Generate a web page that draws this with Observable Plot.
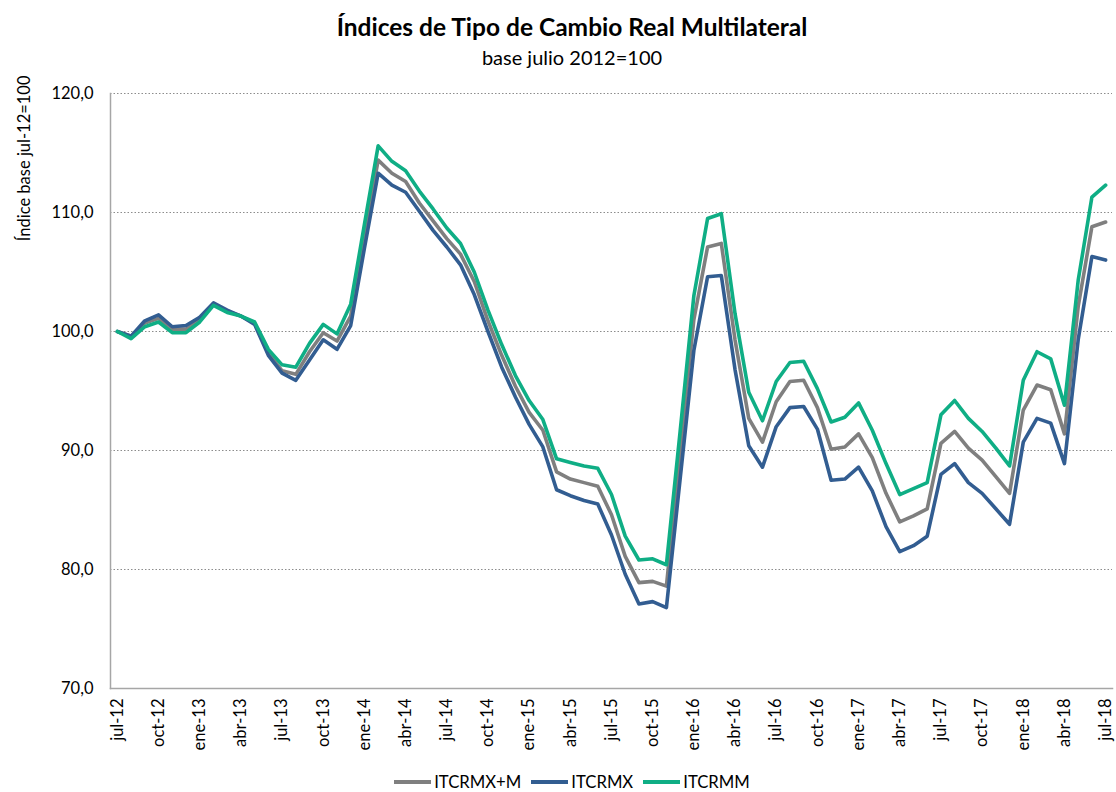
<!DOCTYPE html>
<html>
<head>
<meta charset="utf-8">
<script src="https://cdn.jsdelivr.net/npm/d3@7"></script>
<script src="https://cdn.jsdelivr.net/npm/@observablehq/plot@0.6"></script>
<style>
  body { margin: 0; background: #fff; font-family: Lato, "Open Sans", sans-serif; color: #000; }
  #wrap { position: relative; width: 1116px; height: 792px; }
  #title { position: absolute; left: 14px; width: 1116px; top: 12px; text-align: center; font-size: 24.5px; font-weight: bold; line-height: 30px; }
  #subtitle { position: absolute; left: 14px; width: 1116px; top: 45px; text-align: center; font-size: 20px; line-height: 24px; }
  #chart { position: absolute; left: 0; top: 70px; }
  #legend { position: absolute; left: 14px; width: 1116px; top: 772px; display: flex; justify-content: center; gap: 10px; font-size: 16.7px; line-height: 20px; }
  .item { display: flex; align-items: center; gap: 3px; }
  .swatch { width: 37px; height: 4px; }
</style>
</head>
<body>
<div id="wrap">
  <div id="title">Índices de Tipo de Cambio Real Multilateral</div>
  <div id="subtitle">base julio 2012=100</div>
  <div id="chart"></div>
  <div id="legend"></div>
</div>
<script>
const months = [
  "jul-12","ago-12","sep-12","oct-12","nov-12","dic-12",
  "ene-13","feb-13","mar-13","abr-13","may-13","jun-13","jul-13","ago-13","sep-13","oct-13","nov-13","dic-13",
  "ene-14","feb-14","mar-14","abr-14","may-14","jun-14","jul-14","ago-14","sep-14","oct-14","nov-14","dic-14",
  "ene-15","feb-15","mar-15","abr-15","may-15","jun-15","jul-15","ago-15","sep-15","oct-15","nov-15","dic-15",
  "ene-16","feb-16","mar-16","abr-16","may-16","jun-16","jul-16","ago-16","sep-16","oct-16","nov-16","dic-16",
  "ene-17","feb-17","mar-17","abr-17","may-17","jun-17","jul-17","ago-17","sep-17","oct-17","nov-17","dic-17",
  "ene-18","feb-18","mar-18","abr-18","may-18","jun-18","jul-18"
];

const itcrmxm = [
  100.0, 99.6, 100.7, 101.1, 100.2, 100.2,
  101.0, 102.3, 101.7, 101.3, 100.7, 98.2, 96.7, 96.4, 98.3, 99.9, 99.2, 101.3,
  108.0, 114.4, 113.3, 112.6, 110.8, 109.3, 107.8, 106.5, 104.2, 100.9, 98.0, 95.4,
  93.2, 91.7, 88.2, 87.6, 87.3, 87.0, 84.6, 81.1, 78.9, 79.0, 78.6, 89.8,
  101.0, 107.1, 107.4, 99.3, 92.7, 90.7, 94.1, 95.8, 95.9, 93.6, 90.1, 90.3,
  91.4, 89.4, 86.4, 84.0, 84.5, 85.1, 90.6, 91.6, 90.2, 89.2, 87.8, 86.4,
  93.4, 95.5, 95.1, 91.4, 102.1, 108.8, 109.2
];

const itcrmx = [
  100.0, 99.6, 100.9, 101.4, 100.4, 100.5,
  101.2, 102.4, 101.8, 101.3, 100.6, 98.0, 96.5, 95.9, 97.6, 99.3, 98.5, 100.5,
  107.0, 113.3, 112.3, 111.7, 110.1, 108.5, 107.1, 105.6, 103.1, 100.0, 97.0, 94.5,
  92.2, 90.3, 86.7, 86.2, 85.8, 85.5, 82.9, 79.6, 77.1, 77.3, 76.8, 87.6,
  98.4, 104.6, 104.7, 96.8, 90.4, 88.6, 92.0, 93.6, 93.7, 91.8, 87.5, 87.6,
  88.6, 86.6, 83.6, 81.5, 82.0, 82.8, 88.0, 88.9, 87.3, 86.4, 85.1, 83.8,
  90.7, 92.7, 92.3, 88.9, 99.3, 106.3, 106.0
];

const itcrmm = [
  100.0, 99.4, 100.4, 100.8, 99.9, 99.9,
  100.8, 102.2, 101.6, 101.3, 100.8, 98.5, 97.2, 97.0, 99.0, 100.6, 99.8, 102.3,
  109.0, 115.6, 114.3, 113.5, 111.8, 110.3, 108.7, 107.4, 105.0, 101.8, 98.9, 96.3,
  94.2, 92.6, 89.3, 89.0, 88.7, 88.5, 86.3, 82.8, 80.8, 80.9, 80.4, 91.6,
  103.0, 109.5, 109.9, 101.5, 94.9, 92.5, 95.8, 97.4, 97.5, 95.2, 92.4, 92.8,
  94.0, 91.7, 88.9, 86.3, 86.8, 87.3, 93.0, 94.2, 92.7, 91.6, 90.2, 88.7,
  95.9, 98.3, 97.7, 93.8, 104.3, 111.3, 112.3
];

const seriesNames = ["ITCRMX+M", "ITCRMX", "ITCRMM"];
const seriesColors = ["#7f7f7f", "#325d91", "#0fae85"];
const yTicks = [70, 80, 90, 100, 110, 120];
const yLabel = "Índice base jul-12=100";

const seriesValues = [itcrmxm, itcrmx, itcrmm];
const data = [];
seriesNames.forEach((name, s) => {
  seriesValues[s].forEach((v, i) => data.push({ month: months[i], value: v, series: name }));
});
const xTicks = months.filter((d, i) => i % 3 === 0);

const chart = Plot.plot({
  width: 1116,
  height: 685,
  marginLeft: 110,
  marginRight: 4,
  marginTop: 23,
  marginBottom: 67,
  style: { fontFamily: "Lato, 'Open Sans', sans-serif", color: "#000", background: "transparent" },
  x: { type: "point", domain: months, padding: 0.5 },
  y: { domain: [70, 120] },
  color: { domain: seriesNames, range: seriesColors },
  marks: [
    Plot.ruleY(yTicks.filter(d => d > 70), { stroke: "#8c8c8c", strokeWidth: 1, strokeDasharray: "1.5,2" }),
    Plot.frame({ anchor: "left", stroke: "#a6a6a6", strokeWidth: 1.5 }),
    Plot.frame({ anchor: "bottom", stroke: "#a6a6a6", strokeWidth: 1.5 }),
    Plot.lineY(data, { x: "month", y: "value", z: "series", stroke: "series", strokeWidth: 3.6, strokeLinejoin: "round", strokeLinecap: "round" }),
    Plot.axisY(yTicks, { tickSize: 0, tickPadding: 17, fontSize: 16.5, tickFormat: d => d.toFixed(1).replace(".", ","), label: null }),
    Plot.axisX(xTicks, { tickSize: 0, tickPadding: 10, tickRotate: -90, fontSize: 16.5, label: null }),
    Plot.text([yLabel], { frameAnchor: "top-left", rotate: -90, textAnchor: "end", dx: -92, dy: -18, fontSize: 16.5 })
  ]
});
document.getElementById("chart").appendChild(chart);

const legend = document.getElementById("legend");
seriesNames.forEach((name, i) => {
  const item = document.createElement("div");
  item.className = "item";
  const sw = document.createElement("div");
  sw.className = "swatch";
  sw.style.background = seriesColors[i];
  const label = document.createElement("span");
  label.textContent = name;
  item.appendChild(sw);
  item.appendChild(label);
  legend.appendChild(item);
});
</script>
</body>
</html>
